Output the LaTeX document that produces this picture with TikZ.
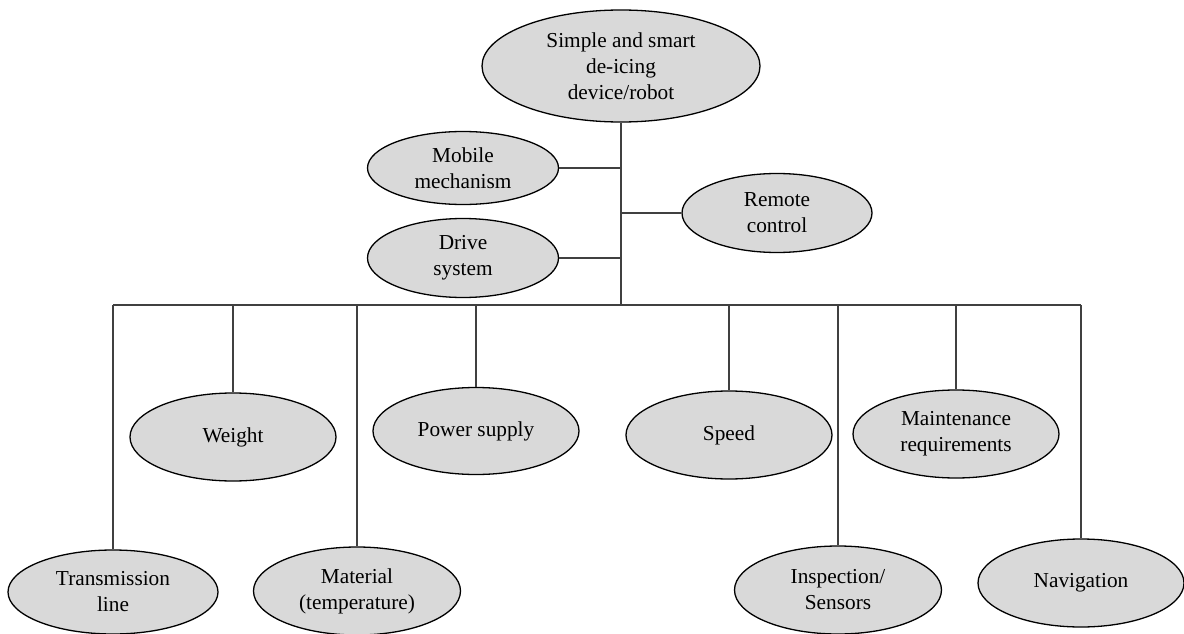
\documentclass[tikz,border=0pt]{standalone}
\usepackage{fontspec}
\setmainfont{Liberation Serif}
\usetikzlibrary{shapes.geometric}
\definecolor{bubblegray}{HTML}{D9D9D9}
\definecolor{linkgray}{HTML}{404040}

\begin{document}
\begin{tikzpicture}[x=1pt,y=-1pt,
        bubble/.style={ellipse,draw=black,line width=1.3pt,fill=bubblegray,inner sep=0pt,
            minimum width=206pt,minimum height=88pt,align=center,
            font=\fontsize{21.3}{26}\selectfont},
        link/.style={draw=linkgray,line width=1.1pt}]
        \useasboundingbox (0,0) rectangle (1184,634);
        \clip (0,0) rectangle (1184,634);

        % top and the three side branches
        \node[bubble,minimum width=278pt,minimum height=112pt] (robot) at (621,66) {Simple and smart\\de-icing\\device/robot};
        \node[bubble,minimum width=191pt,minimum height=73pt] (mobile) at (463,168) {Mobile\\mechanism};
        \node[bubble,minimum width=191pt,minimum height=79pt] (drive) at (463,258) {Drive\\system};
        \node[bubble,minimum width=190pt,minimum height=79pt] (remote) at (777,213) {Remote\\control};

        % upper row
        \node[bubble] (weight) at (233,437) {Weight};
        \node[bubble,minimum height=87pt] (power) at (476,431) {Power supply};
        \node[bubble] (speed) at (729,435) {Speed};
        \node[bubble] (maint) at (956,434) {Maintenance\\requirements};

        % lower row
        \node[bubble,minimum width=210pt,minimum height=84pt] (trans) at (113,592) {Transmission\\line};
        \node[bubble,minimum width=207pt] (material) at (357,591) {Material\\(temperature)};
        \node[bubble,minimum width=207pt] (inspect) at (838,590) {Inspection/\\Sensors};
        \node[bubble] (nav) at (1081,583) {Navigation};

        \coordinate (trunk) at (621,305);
        \draw[link] (robot.south) -- (trunk);
        \draw[link] (trans.north |- trunk) -- (nav.north |- trunk);
        \draw[link] (mobile.east) -- (mobile.east -| robot.south);
        \draw[link] (drive.east) -- (drive.east -| robot.south);
        \draw[link] (remote.west) -- (remote.west -| robot.south);
        \foreach \n in {trans,weight,material,power,speed,inspect,maint,nav}
            \draw[link] (\n.north) -- (\n.north |- trunk);
    \end{tikzpicture}
\end{document}
